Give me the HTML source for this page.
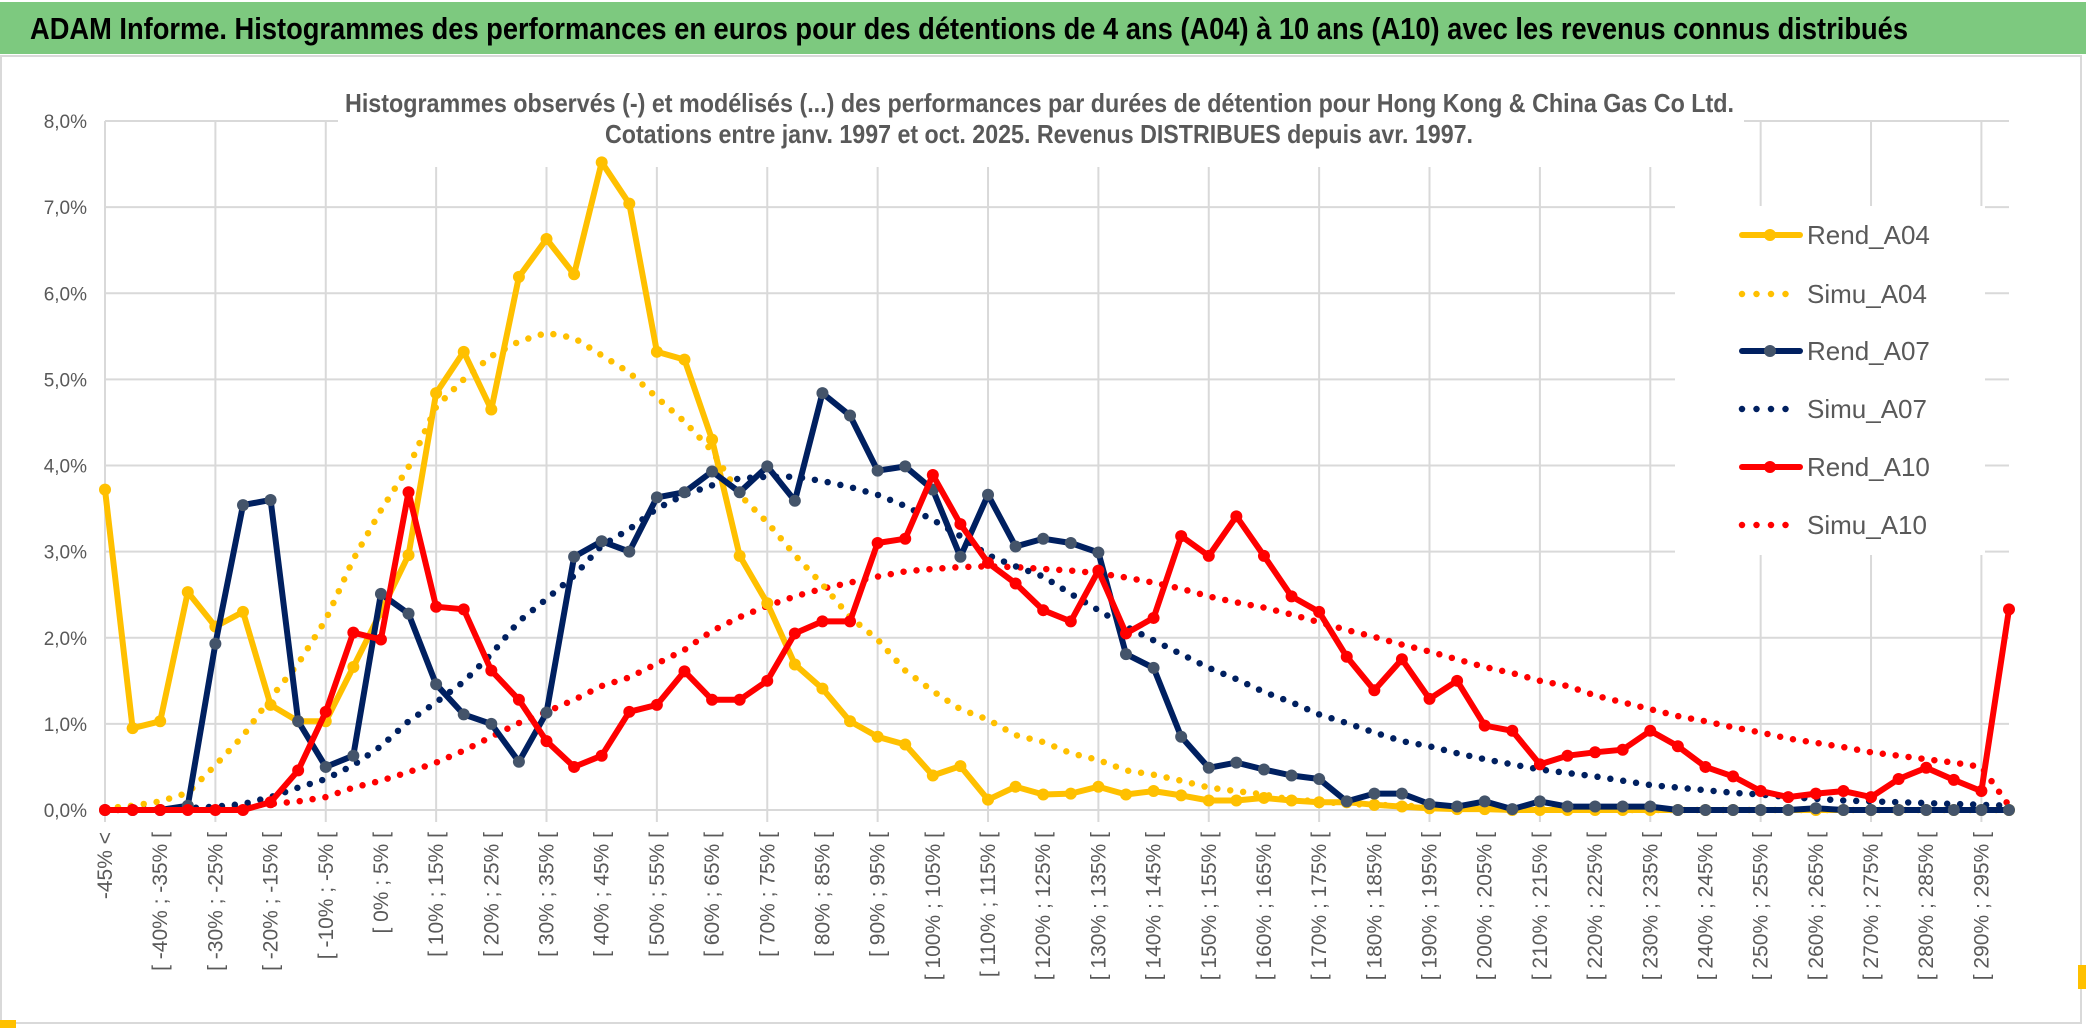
<!DOCTYPE html>
<html><head><meta charset="utf-8">
<style>
html,body{margin:0;padding:0;background:#fff;}
svg{display:block;}
text{font-family:"Liberation Sans",sans-serif;}
</style></head>
<body>
<svg id="chart" width="2086" height="1033" viewBox="0 0 2086 1033" xmlns="http://www.w3.org/2000/svg">
  <rect x="0" y="0" width="2086" height="1033" fill="#ffffff"/>
  <rect x="0" y="2" width="2086" height="52" fill="#7dc97f"/>
  <text x="30" y="39" font-size="31" font-weight="bold" fill="#000" textLength="1878" lengthAdjust="spacingAndGlyphs">ADAM Informe. Histogrammes des performances en euros pour des détentions de 4 ans (A04) à 10 ans (A10) avec les revenus connus distribués</text>
  <rect x="1" y="56" width="2080" height="967" fill="none" stroke="#d9d9d9" stroke-width="2"/>
  <rect x="0" y="1020" width="16" height="8" fill="#ffc000"/>
  <rect x="2078" y="965" width="8" height="24" fill="#ffc000"/>
  <g id="grid"></g>
  <rect x="338" y="88" width="1406" height="79" fill="#fff"/>
  <text x="345" y="112" font-size="26" font-weight="bold" fill="#595959" textLength="1389" lengthAdjust="spacingAndGlyphs">Histogrammes observés (-) et modélisés (...) des performances par durées de détention pour Hong Kong &amp; China Gas Co Ltd.</text>
  <text x="605" y="143" font-size="26" font-weight="bold" fill="#595959" textLength="868" lengthAdjust="spacingAndGlyphs">Cotations entre janv. 1997 et oct. 2025. Revenus DISTRIBUES depuis avr. 1997.</text>
  <g id="yaxis"></g>
  <g id="xaxis"></g>
  <g id="series"></g>
  <g id="legend"></g>
</svg>
<script>
const categories = ["-45% <","[ -45% ; -40% [","[ -40% ; -35% [","[ -35% ; -30% [","[ -30% ; -25% [","[ -25% ; -20% [","[ -20% ; -15% [","[ -15% ; -10% [","[ -10% ; -5% [","[ -5% ; 0% [","[ 0% ; 5% [","[ 5% ; 10% [","[ 10% ; 15% [","[ 15% ; 20% [","[ 20% ; 25% [","[ 25% ; 30% [","[ 30% ; 35% [","[ 35% ; 40% [","[ 40% ; 45% [","[ 45% ; 50% [","[ 50% ; 55% [","[ 55% ; 60% [","[ 60% ; 65% [","[ 65% ; 70% [","[ 70% ; 75% [","[ 75% ; 80% [","[ 80% ; 85% [","[ 85% ; 90% [","[ 90% ; 95% [","[ 95% ; 100% [","[ 100% ; 105% [","[ 105% ; 110% [","[ 110% ; 115% [","[ 115% ; 120% [","[ 120% ; 125% [","[ 125% ; 130% [","[ 130% ; 135% [","[ 135% ; 140% [","[ 140% ; 145% [","[ 145% ; 150% [","[ 150% ; 155% [","[ 155% ; 160% [","[ 160% ; 165% [","[ 165% ; 170% [","[ 170% ; 175% [","[ 175% ; 180% [","[ 180% ; 185% [","[ 185% ; 190% [","[ 190% ; 195% [","[ 195% ; 200% [","[ 200% ; 205% [","[ 205% ; 210% [","[ 210% ; 215% [","[ 215% ; 220% [","[ 220% ; 225% [","[ 225% ; 230% [","[ 230% ; 235% [","[ 235% ; 240% [","[ 240% ; 245% [","[ 245% ; 250% [","[ 250% ; 255% [","[ 255% ; 260% [","[ 260% ; 265% [","[ 265% ; 270% [","[ 270% ; 275% [","[ 275% ; 280% [","[ 280% ; 285% [","[ 285% ; 290% [","[ 290% ; 295% [","[ 295% ; 300% ["];
const yTicks = [0,1,2,3,4,5,6,7,8];
const yTickLabels = ["0,0%","1,0%","2,0%","3,0%","4,0%","5,0%","6,0%","7,0%","8,0%"];
const rendA04 = [3.72,0.95,1.03,2.53,2.13,2.30,1.22,1.03,1.03,1.66,2.30,2.96,4.84,5.32,4.65,6.19,6.63,6.22,7.52,7.04,5.32,5.23,4.30,2.95,2.40,1.69,1.41,1.03,0.85,0.76,0.40,0.51,0.12,0.27,0.18,0.19,0.27,0.18,0.22,0.17,0.11,0.11,0.14,0.11,0.09,0.09,0.06,0.04,0.02,0.01,0.01,0,0,0,0,0,0,0,0,0,0,0,0,0,0,0,0,0,0,0];
const simuA04 = [0.02,0.05,0.10,0.20,0.52,0.86,1.30,1.70,2.21,2.91,3.48,3.98,4.68,5.00,5.27,5.44,5.54,5.48,5.28,5.08,4.79,4.51,4.17,3.66,3.34,2.96,2.62,2.24,1.98,1.62,1.38,1.17,1.05,0.87,0.79,0.66,0.58,0.46,0.41,0.34,0.26,0.22,0.18,0.12,0.10,0.07,0.06,0.05,0.04,0.03,0.02,0.02,0.01,0.01,0.01,0,0,0,0,0,0,0,0,0,0,0,0,0,0,0];
const rendA07 = [0,0,0,0.05,1.93,3.54,3.60,1.03,0.50,0.63,2.51,2.28,1.46,1.11,1.00,0.56,1.13,2.94,3.12,3.00,3.63,3.69,3.93,3.69,3.99,3.59,4.84,4.58,3.94,3.99,3.72,2.94,3.66,3.06,3.15,3.10,2.99,1.81,1.65,0.85,0.49,0.55,0.47,0.40,0.36,0.10,0.19,0.19,0.07,0.04,0.10,0.01,0.10,0.04,0.04,0.04,0.04,0,0,0,0,0,0.02,0,0,0,0,0,0,0];
const simuA07 = [0,0.01,0.01,0.02,0.04,0.07,0.15,0.26,0.36,0.52,0.74,1.03,1.25,1.49,1.81,2.19,2.45,2.72,3.07,3.26,3.50,3.66,3.77,3.85,3.87,3.87,3.82,3.75,3.66,3.53,3.37,3.18,2.96,2.83,2.71,2.51,2.32,2.13,1.97,1.81,1.65,1.52,1.37,1.25,1.11,1.01,0.90,0.80,0.74,0.66,0.59,0.53,0.47,0.43,0.39,0.34,0.29,0.26,0.23,0.20,0.18,0.15,0.13,0.11,0.10,0.09,0.08,0.07,0.06,0.05];
const rendA10 = [0,0,0,0,0,0,0.09,0.46,1.14,2.06,1.98,3.69,2.36,2.33,1.62,1.28,0.80,0.50,0.63,1.14,1.22,1.61,1.28,1.28,1.50,2.05,2.19,2.19,3.10,3.15,3.89,3.32,2.87,2.63,2.32,2.19,2.78,2.05,2.23,3.18,2.95,3.41,2.95,2.48,2.30,1.78,1.39,1.75,1.29,1.50,0.98,0.92,0.53,0.63,0.67,0.70,0.92,0.74,0.50,0.39,0.22,0.15,0.19,0.22,0.15,0.36,0.49,0.35,0.22,2.33];
const simuA10 = [0,0,0.01,0.02,0.03,0.05,0.07,0.10,0.15,0.26,0.34,0.44,0.55,0.69,0.85,1.01,1.14,1.28,1.44,1.54,1.70,1.86,2.08,2.24,2.37,2.48,2.57,2.64,2.71,2.77,2.80,2.82,2.83,2.82,2.80,2.78,2.75,2.70,2.64,2.57,2.48,2.41,2.35,2.27,2.18,2.09,2.01,1.92,1.84,1.75,1.66,1.59,1.50,1.44,1.33,1.25,1.17,1.09,1.03,0.96,0.90,0.83,0.78,0.73,0.67,0.63,0.59,0.55,0.50,0.05];
const seriesNames = ["Rend_A04","Simu_A04","Rend_A07","Simu_A07","Rend_A10","Simu_A10"];

const NS = "http://www.w3.org/2000/svg";
const X0 = 105, X1 = 2009, Y0 = 810, YTOP = 121, YMAX = 8;
function xPos(i){ return X0 + (X1 - X0) * i / (categories.length - 1); }
function yPos(v){ return Y0 - (Y0 - YTOP) * v / YMAX; }
function mk(tag, attrs, parent){ const e = document.createElementNS(NS, tag); for (const k in attrs) e.setAttribute(k, attrs[k]); parent.appendChild(e); return e; }

const grid = document.getElementById('grid');
yTicks.forEach(function(t){
  const l = mk('line', {x1:X0, x2:X1, y1:yPos(t), y2:yPos(t), stroke:'#d9d9d9', 'stroke-width':2}, grid);
  
  
});
for (let i = 0; i < categories.length; i += 4) {
  const l = mk('line', {x1:xPos(i), x2:xPos(i), y1:YTOP, y2:Y0 + 12, stroke:'#d9d9d9', 'stroke-width':2}, grid);
  
  
}

const yaxis = document.getElementById('yaxis');
yTicks.forEach(function(t, i){
  const tx = mk('text', {x:87, y:yPos(t) + 7, 'text-anchor':'end', 'font-size':19, fill:'#595959'}, yaxis);
  tx.textContent = yTickLabels[i];
  
  
});

const xaxis = document.getElementById('xaxis');
for (let i = 0; i < categories.length; i += 2) {
  const x = xPos(i);
  const tx = mk('text', {x:0, y:0, 'text-anchor':'end', 'font-size':21, fill:'#595959', transform:'translate(' + (x + 7) + ',832) rotate(-90)'}, xaxis);
  tx.textContent = categories[i];
  
  
}

const layer = document.getElementById('series');
function pts(arr){ return arr.map(function(v, i){ return xPos(i).toFixed(1) + ',' + yPos(v).toFixed(1); }).join(' '); }
function dotted(arr, color, name){
  const p = mk('polyline', {points:pts(arr), fill:'none', stroke:color, 'stroke-width':6.5, 'stroke-linecap':'round', 'stroke-dasharray':'0 13'}, layer);
  
  
}
function solid(arr, color, mcolor, name){
  const g = mk('g', {}, layer);
  
  
  const p = mk('polyline', {points:pts(arr), fill:'none', stroke:color, 'stroke-width':6, 'stroke-linejoin':'round', 'stroke-linecap':'round'}, g);
  
  
  arr.forEach(function(v, i){
    const c = mk('circle', {cx:xPos(i), cy:yPos(v), r:6, fill:mcolor}, g);
    
    
  });
}
dotted(simuA10, '#ff0000', 'simu-a10-series');
dotted(simuA07, '#002060', 'simu-a07-series');
dotted(simuA04, '#ffc000', 'simu-a04-series');
solid(rendA04, '#ffc000', '#ffc000', 'rend-a04-series');
solid(rendA07, '#002060', '#44546a', 'rend-a07-series');
solid(rendA10, '#ff0000', '#ff0000', 'rend-a10-series');

const legend = document.getElementById('legend');
const lbg = mk('rect', {x:1675, y:206, width:310, height:349, fill:'#fff'}, legend);


const legColors = ['#ffc000','#ffc000','#002060','#002060','#ff0000','#ff0000'];
const legMarkers = ['#ffc000',null,'#44546a',null,'#ff0000',null];
const legY = [235, 294, 351, 409, 467, 525];
seriesNames.forEach(function(n, i){
  const g = mk('g', {}, legend);
  
  
  const y = legY[i];
  if (legMarkers[i]) {
    mk('line', {x1:1742, x2:1800, y1:y, y2:y, stroke:legColors[i], 'stroke-width':6, 'stroke-linecap':'round'}, g);
    mk('circle', {cx:1770, cy:y, r:6, fill:legMarkers[i]}, g);
  } else {
    mk('line', {x1:1742, x2:1800, y1:y, y2:y, stroke:legColors[i], 'stroke-width':6.5, 'stroke-linecap':'round', 'stroke-dasharray':'0 14.5'}, g);
  }
  const t = mk('text', {x:1807, y:y + 9, 'font-size':26, fill:'#595959'}, g);
  t.textContent = n;
});
</script>
</body></html>
